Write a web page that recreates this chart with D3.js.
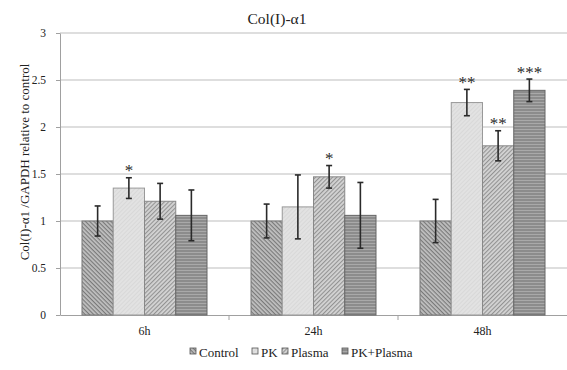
<!DOCTYPE html>
<html>
<head>
<meta charset="utf-8">
<script src="https://cdn.jsdelivr.net/npm/d3@7"></script>
<style>
  body { margin: 0; background: #fff; }
  svg text { font-family: "Liberation Serif", "Times New Roman", serif; }
</style>
</head>
<body>
<div id="chart"></div>
<script>
const categories = ['6h', '24h', '48h'];
const seriesNames = ['Control', 'PK', 'Plasma', 'PK+Plasma'];
// bar heights per category, in series order
const values = [
  [1.0, 1.35, 1.21, 1.06],
  [1.0, 1.15, 1.47, 1.06],
  [1.0, 2.26, 1.80, 2.39]
];
// error bar half-widths
const errors = [
  [0.16, 0.11, 0.19, 0.27],
  [0.18, 0.34, 0.12, 0.35],
  [0.23, 0.14, 0.16, 0.12]
];
const stars = [
  ['', '*', '', ''],
  ['', '', '*', ''],
  ['', '**', '**', '***']
];
const yTicks = [0, 0.5, 1, 1.5, 2, 2.5, 3];

const width = 567, height = 370;
const margin = { top: 33, right: 0, bottom: 55, left: 60 };
const serif = '"Liberation Serif", "Times New Roman", serif';

const svg = d3.select('#chart').append('svg')
  .attr('width', width)
  .attr('height', height)
  .attr('font-family', serif);

// -- hatch patterns for each series
const defs = svg.append('defs');
function hatch(id, bg, line, lineWidth, size, angle) {
  const p = defs.append('pattern')
    .attr('id', id)
    .attr('patternUnits', 'userSpaceOnUse')
    .attr('width', size)
    .attr('height', size)
    .attr('patternTransform', `rotate(${angle})`);
  p.append('rect').attr('width', size).attr('height', size).attr('fill', bg);
  if (line) {
    p.append('rect').attr('width', size).attr('height', lineWidth).attr('fill', line);
  }
}
hatch('p-control', '#c2c2c2', '#7a7a7a', 1.2, 3, 45);
hatch('p-pk', '#e2e2e2', '#d8d8d8', 1, 3, -45);
hatch('p-plasma', '#d4d4d4', '#939393', 1.1, 3, -45);
hatch('p-pkplasma', '#8c8c8c', '#a9a9a9', 1, 3, 0);
const fills = ['url(#p-control)', 'url(#p-pk)', 'url(#p-plasma)', 'url(#p-pkplasma)'];
const strokes = ['#777', '#999', '#888', '#666'];

const x0 = d3.scaleBand()
  .domain(categories)
  .range([margin.left, width - margin.right]);

const x1 = d3.scaleBand()
  .domain(seriesNames)
  .range([22, x0.bandwidth() - 22]);

const y = d3.scaleLinear()
  .domain([0, 3])
  .range([height - margin.bottom, margin.top]);

// -- gridlines
svg.append('g')
  .selectAll('line')
  .data(yTicks.filter(d => d > 0))
  .join('line')
  .attr('x1', margin.left)
  .attr('x2', width - margin.right)
  .attr('y1', d => y(d))
  .attr('y2', d => y(d))
  .attr('stroke', '#bdbdbd')
  .attr('stroke-width', 1);

// -- y axis
const yAxis = svg.append('g')
  .attr('transform', `translate(${margin.left},0)`)
  .call(d3.axisLeft(y).tickValues(yTicks).tickSize(4).tickSizeOuter(0).tickPadding(10).tickFormat(d3.format('')))
  .attr('font-family', serif)
  .attr('font-size', 11.5);
yAxis.select('.domain').attr('stroke', '#a0a0a0');
yAxis.selectAll('.tick line').attr('stroke', '#a0a0a0');
yAxis.selectAll('.tick text').attr('fill', '#222');

// -- x axis
const xAxis = svg.append('g')
  .attr('transform', `translate(0,${y(0)})`)
  .call(d3.axisBottom(x0).tickSize(0).tickPadding(11.5))
  .attr('font-family', serif)
  .attr('font-size', 12);
xAxis.select('.domain').attr('stroke', '#a0a0a0');
xAxis.selectAll('.tick text').attr('fill', '#222');
// category separators
svg.append('g')
  .selectAll('line')
  .data(categories.slice(1))
  .join('line')
  .attr('x1', d => x0(d))
  .attr('x2', d => x0(d))
  .attr('y1', y(0))
  .attr('y2', y(0) + 5)
  .attr('stroke', '#a0a0a0');

// -- bars
const rows = (c, i) => seriesNames.map((s, j) => ({ s, j, v: values[i][j], e: errors[i][j], star: stars[i][j] }));
const groups = svg.append('g')
  .selectAll('g')
  .data(categories)
  .join('g')
  .attr('transform', d => `translate(${x0(d)},0)`);

groups.selectAll('rect')
  .data(rows)
  .join('rect')
  .attr('x', d => x1(d.s))
  .attr('y', d => y(d.v))
  .attr('width', x1.bandwidth())
  .attr('height', d => y(0) - y(d.v))
  .attr('fill', d => fills[d.j])
  .attr('stroke', d => strokes[d.j])
  .attr('stroke-width', 1);

// -- error bars
const err = groups.selectAll('g.err')
  .data(rows)
  .join('g')
  .attr('class', 'err')
  .attr('stroke', '#2a2a2a')
  .attr('stroke-width', 1.6);
const cx = d => x1(d.s) + x1.bandwidth() / 2;
err.append('line')
  .attr('x1', cx).attr('x2', cx)
  .attr('y1', d => y(d.v + d.e))
  .attr('y2', d => y(d.v - d.e));
err.append('line')
  .attr('x1', d => cx(d) - 3).attr('x2', d => cx(d) + 3)
  .attr('y1', d => y(d.v + d.e))
  .attr('y2', d => y(d.v + d.e));
err.append('line')
  .attr('x1', d => cx(d) - 3).attr('x2', d => cx(d) + 3)
  .attr('y1', d => y(d.v - d.e))
  .attr('y2', d => y(d.v - d.e));

// -- significance stars
groups.selectAll('text.star')
  .data(rows)
  .join('text')
  .attr('class', 'star')
  .attr('x', cx)
  .attr('y', d => y(d.v + d.e) - 1.5)
  .attr('text-anchor', 'middle')
  .attr('font-size', 17)
  .attr('fill', '#2a2a2a')
  .text(d => d.star);

// -- title
svg.append('text')
  .attr('x', 277)
  .attr('y', 24)
  .attr('text-anchor', 'middle')
  .attr('font-size', 15.5)
  .attr('fill', '#222')
  .text('Col(I)-α1');

// -- y label
svg.append('text')
  .attr('transform', 'translate(29,162) rotate(-90)')
  .attr('text-anchor', 'middle')
  .attr('font-size', 13)
  .attr('fill', '#222')
  .text('Col(I)-α1 /GAPDH relative to control');

// -- legend
const legendX = [190, 252, 282, 342];
const legend = svg.append('g')
  .selectAll('g')
  .data(seriesNames)
  .join('g')
  .attr('transform', (d, i) => `translate(${legendX[i]},357)`);
legend.append('rect')
  .attr('x', 0).attr('y', -9)
  .attr('width', 6).attr('height', 6)
  .attr('fill', (d, i) => fills[i])
  .attr('stroke', '#555')
  .attr('stroke-width', 0.8);
legend.append('text')
  .attr('x', 9).attr('y', 0)
  .attr('font-size', 13)
  .attr('fill', '#222')
  .text(d => d);
</script>
</body>
</html>
